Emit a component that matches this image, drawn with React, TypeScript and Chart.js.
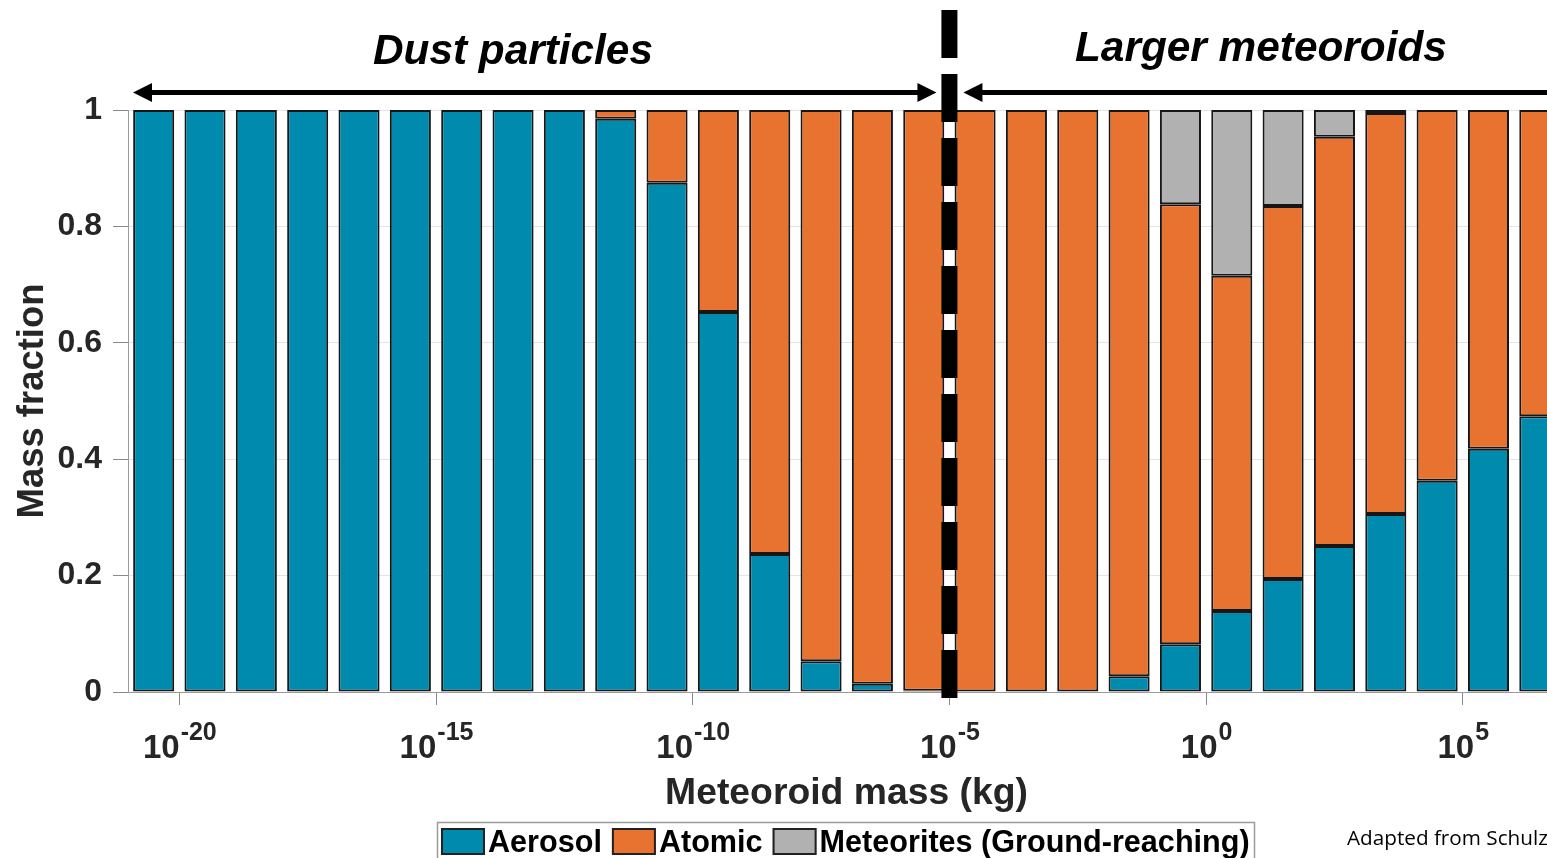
import { useEffect, useRef } from 'react';
import { Chart, registerables } from 'chart.js';

Chart.register(...registerables);

// log10 of meteoroid mass (kg) at the centre of each bin
const massExponents = [
  -20.5, -19.5, -18.5, -17.5, -16.5, -15.5, -14.5, -13.5, -12.5, -11.5,
  -10.5, -9.5, -8.5, -7.5, -6.5, -5.5, -4.5, -3.5, -2.5, -1.5,
  -0.5, 0.5, 1.5, 2.5, 3.5, 4.5, 5.5, 6.5,
];
const aerosol = [
  1, 1, 1, 1, 1, 1, 1, 1, 1, 0.985,
  0.875, 0.653, 0.237, 0.053, 0.014, 0.002, 0, 0, 0, 0.027,
  0.082, 0.139, 0.194, 0.251, 0.306, 0.363, 0.418, 0.474,
];
const atomic = [
  0, 0, 0, 0, 0, 0, 0, 0, 0, 0.015,
  0.125, 0.347, 0.763, 0.947, 0.986, 0.998, 1, 1, 1, 0.973,
  0.756, 0.576, 0.641, 0.703, 0.689, 0.637, 0.582, 0.526,
];
const meteorites = [
  0, 0, 0, 0, 0, 0, 0, 0, 0, 0,
  0, 0, 0, 0, 0, 0, 0, 0, 0, 0,
  0.162, 0.285, 0.165, 0.046, 0.005, 0, 0, 0,
];
const seriesNames = ['Aerosol', 'Atomic', 'Meteorites (Ground-reaching)'];
const seriesColors = ['#008bae', '#e87330', '#b1b1b1'];
const xTickExponents = [-20, -15, -10, -5, 0, 5];
const yTicks = [0, 0.2, 0.4, 0.6, 0.8, 1];
const boundaryExponent = -5;
const regionTitles = ['Dust particles', 'Larger meteoroids'];
const xTitle = 'Meteoroid mass (kg)';
const yTitle = 'Mass fraction';
const note = 'Adapted from Schulz et al.';

const FAMILY = '"Liberation Sans", Arial, sans-serif';
const TEXT = '#262626';

function fitSize(ctx: CanvasRenderingContext2D, text: string, style: string, family: string, width: number) {
  ctx.font = `${style} 100px ${family}`;
  return (100 * width) / ctx.measureText(text).width;
}

function arrow(ctx: CanvasRenderingContext2D, x1: number, x2: number, y: number) {
  // double-headed horizontal arrow from tip x1 to tip x2
  const hl = 19;
  const hh = 9.5;
  ctx.save();
  ctx.fillStyle = '#000';
  ctx.strokeStyle = '#000';
  ctx.lineWidth = 5;
  ctx.beginPath();
  ctx.moveTo(x1 + hl - 2, y);
  ctx.lineTo(x2 - hl + 2, y);
  ctx.stroke();
  ctx.beginPath();
  ctx.moveTo(x1, y);
  ctx.lineTo(x1 + hl, y - hh);
  ctx.lineTo(x1 + hl, y + hh);
  ctx.closePath();
  ctx.fill();
  ctx.beginPath();
  ctx.moveTo(x2, y);
  ctx.lineTo(x2 - hl, y - hh);
  ctx.lineTo(x2 - hl, y + hh);
  ctx.closePath();
  ctx.fill();
  ctx.restore();
}

const overlay = {
  id: 'overlay',
  afterDraw(chart: any) {
    const ctx: CanvasRenderingContext2D = chart.ctx;
    const xs = chart.scales.x;
    const area = chart.chartArea;
    const bx = xs.getPixelForValue(boundaryExponent);

    ctx.save();

    // x tick labels 10^n
    ctx.fillStyle = TEXT;
    ctx.textBaseline = 'alphabetic';
    ctx.textAlign = 'left';
    for (const e of xTickExponents) {
      const px = xs.getPixelForValue(e);
      const base = '10';
      const sup = String(e);
      ctx.font = `bold 33px ${FAMILY}`;
      const wb = ctx.measureText(base).width;
      ctx.font = `bold 25px ${FAMILY}`;
      const ws = ctx.measureText(sup).width;
      const start = px - (wb + ws) / 2;
      ctx.font = `bold 33px ${FAMILY}`;
      ctx.fillText(base, start, 758);
      ctx.font = `bold 25px ${FAMILY}`;
      ctx.fillText(sup, start + wb + 1, 740);
    }

    // axis titles
    let s = fitSize(ctx, xTitle, 'bold', FAMILY, 363);
    ctx.font = `bold ${s}px ${FAMILY}`;
    ctx.textAlign = 'center';
    ctx.fillText(xTitle, 846.5, 804);

    s = fitSize(ctx, yTitle, 'bold', FAMILY, 235);
    ctx.save();
    ctx.translate(43, 401);
    ctx.rotate(-Math.PI / 2);
    ctx.font = `bold ${s}px ${FAMILY}`;
    ctx.textAlign = 'center';
    ctx.fillText(yTitle, 0, 0);
    ctx.restore();

    // boundary dashed line
    ctx.save();
    ctx.strokeStyle = '#000';
    ctx.lineWidth = 16;
    ctx.setLineDash([48, 16]);
    ctx.beginPath();
    ctx.moveTo(bx, 10);
    ctx.lineTo(bx, 698);
    ctx.stroke();
    ctx.restore();

    // region arrows
    arrow(ctx, area.left + 5, bx - 13, 92.5);
    arrow(ctx, bx + 14, area.right + 19, 92.5);

    // region titles
    ctx.fillStyle = '#000';
    s = fitSize(ctx, regionTitles[0], 'italic bold', FAMILY, 280);
    ctx.font = `italic bold ${s}px ${FAMILY}`;
    ctx.textAlign = 'left';
    ctx.fillText(regionTitles[0], 373, 64);
    s = fitSize(ctx, regionTitles[1], 'italic bold', FAMILY, 372);
    ctx.font = `italic bold ${s}px ${FAMILY}`;
    ctx.fillText(regionTitles[1], 1075, 61);

    // legend
    ctx.strokeStyle = '#9a9a9a';
    ctx.lineWidth = 1.5;
    ctx.strokeRect(437.5, 822.5, 817, 60);
    let lx = 441;
    ctx.font = `bold 30.6px ${FAMILY}`;
    ctx.textAlign = 'left';
    seriesNames.forEach((name, i) => {
      ctx.fillStyle = seriesColors[i];
      ctx.fillRect(lx, 828, 44, 27);
      ctx.strokeStyle = '#222';
      ctx.lineWidth = 2;
      ctx.strokeRect(lx + 1, 829, 42, 25);
      ctx.fillStyle = '#000';
      ctx.fillText(name, lx + 47, 852);
      lx += 47 + ctx.measureText(name).width + 10;
    });

    // source note
    ctx.fillStyle = '#000';
    const nf = '"Open Sans", Lato, sans-serif';
    s = fitSize(ctx, 'Adapted from Schulz', 'normal', nf, 201);
    ctx.font = `normal ${s}px ${nf}`;
    ctx.fillText(note, 1347, 845);

    ctx.restore();
  },
};

export default function App() {
  const ref = useRef<HTMLCanvasElement | null>(null);

  useEffect(() => {
    const canvas = ref.current;
    if (!canvas) return;
    const values = [aerosol, atomic, meteorites];
    const chart = new Chart(canvas, {
      type: 'bar',
      data: {
        datasets: seriesNames.map((name, i) => ({
          label: name,
          data: massExponents.map((m, j) => ({ x: m, y: values[i][j] > 0 ? values[i][j] : null })),
          backgroundColor: seriesColors[i],
          borderColor: '#161616',
          borderWidth: 2,
          borderSkipped: false,
          categoryPercentage: 0.8,
          barPercentage: 1,
          stack: 'mass',
        })),
      } as any,
      options: {
        responsive: false,
        animation: false,
        devicePixelRatio: 1,
        layout: { padding: { top: 110, right: 0, left: 0, bottom: 0 } },
        plugins: { legend: { display: false }, tooltip: { enabled: false } },
        scales: {
          x: {
            type: 'linear',
            min: -21,
            max: 6.64,
            offset: false,
            stacked: true,
            afterBuildTicks: (sc: any) => {
              sc.ticks = xTickExponents.map((v) => ({ value: v }));
            },
            afterFit: (sc: any) => {
              sc.height = 166;
            },
            grid: { drawOnChartArea: false, drawTicks: true, tickLength: 13, tickColor: '#8a8a8a', offset: false },
            border: { color: '#9a9a9a', width: 1 },
            ticks: { display: false },
          },
          y: {
            min: 0,
            max: 1,
            stacked: true,
            afterBuildTicks: (sc: any) => {
              sc.ticks = yTicks.map((v) => ({ value: v }));
            },
            afterFit: (sc: any) => {
              sc.width = 128;
            },
            grid: { color: '#e4e4e4', tickColor: '#8a8a8a', tickLength: 15, drawTicks: true },
            border: { color: '#9a9a9a', width: 1 },
            ticks: {
              padding: 11,
              color: TEXT,
              font: { family: FAMILY, weight: 'bold', size: 32 },
              callback: (v: any) => String(Math.round(v * 10) / 10),
            },
          },
        },
      } as any,
      plugins: [overlay],
    });
    return () => chart.destroy();
  }, []);

  return (
    <div style={{ position: 'absolute', left: 0, top: 0, width: 1547, height: 858, background: '#fff' }}>
      <canvas ref={ref} width={1547} height={858} style={{ display: 'block' }} />
    </div>
  );
}
